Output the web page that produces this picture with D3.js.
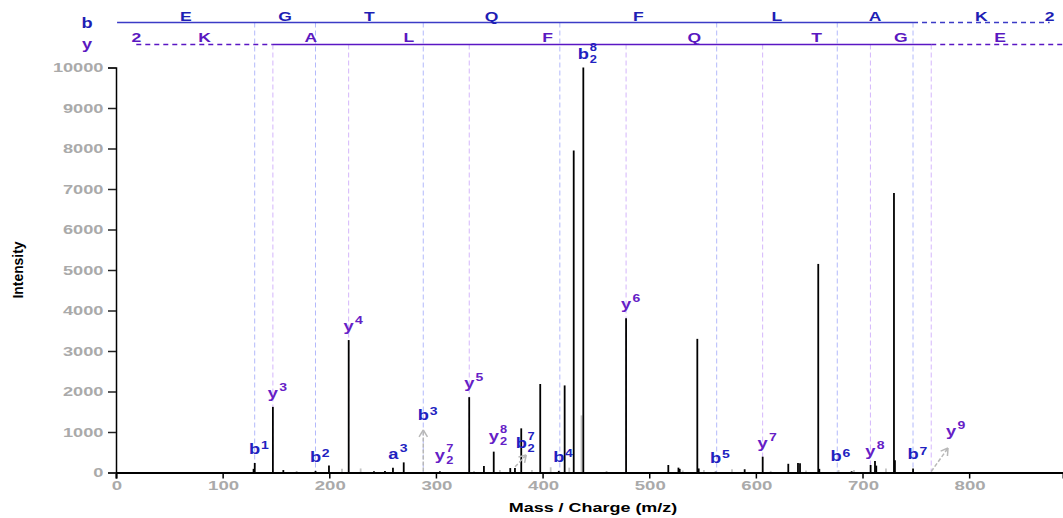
<!DOCTYPE html>
<html><head><meta charset="utf-8">
<script src="https://cdn.jsdelivr.net/npm/d3@7"></script>
<style>body{margin:0;background:#fff}svg{display:block}</style>
</head><body>
<svg id="c" width="1063" height="518"></svg>
<script>
// ---- data ----
const peptideB = ["E","G","T","Q","F","L","A","K"];
const peptideY = ["K","A","L","F","Q","T","G","E"];
const bLadder = [1.007,130.05,187.07,288.12,416.18,563.25,676.33,747.37,875.46];
const yLadder = [19.018,147.11,218.15,331.23,478.30,606.36,707.41,764.43,893.47];
const bMatched = [1,7];   // ladder index range drawn solid
const yMatched = [1,7];
const bIonIdx = [1,2,3,4,5,6,7];
const yIonIdx = [1,2,3,4,5,6,7];

const blackMz  = [129.0,130.1,147.1,156.9,169.4,182.8,187.1,199.7,218.2,241.9,252.2,259.7,269.8,303.7,331.2,335.7,345.0,354.2,369.7,374.1,380.0,397.8,415.2,420.7,429.2,438.2,460.0,478.3,517.9,527.4,528.6,545.1,546.4,562.2,589.5,606.4,630.4,639.5,641.4,658.5,659.5,689.8,707.6,711.7,712.9,729.5,730.4,747.4];
const blackInt = [90,235,1620,60,20,15,40,170,3270,30,40,120,250,30,1860,20,160,515,110,110,1090,2185,40,2150,7950,10000,20,3810,185,120,90,3300,100,20,80,390,215,235,230,5150,90,30,185,285,170,6900,300,100];
const grayMz  = [211.9,229.4,360.0,390.0,407.6,425.0,436.5,531.4,551.3,577.6,613.9,647.0,677.6,692.0,722.0];
const grayInt = [90,100,60,60,130,120,1410,50,60,80,40,50,60,60,100];

// ion labels: type, number, charge, m/z, intensity of matched peak
const ionType  = ["b","y","b","y","a","b","y","y","y","b","b","b","y","b","y","b","y","b","y"];
const ionNum   = [1,3,2,4,3,3,7,5,8,7,4,8,6,5,7,6,8,7,9];
const ionCharge= [1,1,1,1,1,1,2,1,2,2,1,2,1,1,1,1,1,1,1];
const ionMz    = [130.05,147.11,187.07,218.15,260.12,288.12,303.68,331.23,354.21,374.19,415.17,438.19,478.30,562.24,606.36,675.32,707.41,747.37,764.43];
const ionInt   = [235,1620,40,3270,120,0,30,1860,515,140,45,10000,3810,20,390,60,185,100,0];
// labels displaced with an arrow: label m/z and intensity (null = not displaced)
const ionLabelMz  = [null,null,null,null,null,288.12,null,null,null,380.0,null,null,null,null,null,null,null,null,783.0];
const ionLabelInt = [null,null,null,null,null,1075,null,null,null,383,null,null,null,null,null,null,null,null,679];

const xTicks = [0,100,200,300,400,500,600,700,800];
const yTicks = [0,1000,2000,3000,4000,5000,6000,7000,8000,9000,10000];

// ---- drawing ----
const svg = d3.select("#c");
const FONT = "'Liberation Sans', Arial, Helvetica, sans-serif";
const x = d3.scaleLinear().domain([0,888]).range([116,1063]);
const y = d3.scaleLinear().domain([0,10000]).range([472.5,67.5]);
const BCOL = "#2121c0", YCOL = "#6520c6";
const BLINE = "#3b3bc6", YLINE = "#5a16c4";
const BVERT = "#b3b9fb", YVERT = "#d4b6fb";
const ROWB = 22.5, ROWY = 44.5;

function txt(g, px, py, s, o){
  o = o||{};
  return g.append("text")
    .attr("transform", `translate(${px},${py}) scale(${o.sx||1.25},1)`)
    .attr("text-anchor", o.anchor||"middle")
    .attr("font-family", FONT).attr("font-weight","bold")
    .attr("font-size", o.size||13)
    .attr("fill", o.fill||"#000")
    .text(s);
}

// vertical dashed ion lines
const vg = svg.append("g");
bIonIdx.forEach(i=>{
  vg.append("line").attr("x1",x(bLadder[i])).attr("x2",x(bLadder[i]))
    .attr("y1",ROWB).attr("y2",y(0)).attr("stroke",BVERT).attr("stroke-width",1).attr("stroke-dasharray","5,3");
});
yIonIdx.forEach(i=>{
  vg.append("line").attr("x1",x(yLadder[i])).attr("x2",x(yLadder[i]))
    .attr("y1",ROWY).attr("y2",y(0)).attr("stroke",YVERT).attr("stroke-width",1).attr("stroke-dasharray","5,3");
});

// ladder rows
const topG = svg.append("g");
function seg(x1,x2,yy,col,dash){
  const l = topG.append("line").attr("x1",Math.max(x1,0)).attr("x2",Math.min(x2,1063))
    .attr("y1",yy).attr("y2",yy).attr("stroke",col).attr("stroke-width",1.5);
  if(dash) l.attr("stroke-dasharray","5,4");
}
seg(x(bLadder[0]), x(bLadder[bMatched[1]]), ROWB, BLINE, false);
seg(x(bLadder[bMatched[1]]), x(bLadder[bLadder.length-1]), ROWB, BLINE, true);
seg(x(yLadder[0]), x(yLadder[yMatched[0]]), ROWY, YLINE, true);
seg(x(yLadder[yMatched[0]]), x(yLadder[yMatched[1]]), ROWY, YLINE, false);
seg(x(yLadder[yMatched[1]]), x(yLadder[yLadder.length-1]), ROWY, YLINE, true);

const TS = 13.5, TSX = 1.3;
peptideB.forEach((r,i)=>{
  txt(topG, (x(bLadder[i])+x(bLadder[i+1]))/2, ROWB-2, r, {size:TS, sx:TSX, fill:"#1e1eb4"});
});
txt(topG, x(bLadder[bLadder.length-1]), ROWB-2, "2", {size:TS, sx:TSX, fill:"#1e1eb4"});
peptideY.forEach((r,i)=>{
  txt(topG, (x(yLadder[i])+x(yLadder[i+1]))/2, ROWY-2.5, r, {size:TS, sx:TSX, fill:"#5a18c0"});
});
txt(topG, x(yLadder[0]), ROWY-2.5, "2", {size:TS, sx:TSX, fill:"#5a18c0"});
txt(topG, 87, 28, "b", {size:14, sx:1.3, fill:"#1e1eb4"});
txt(topG, 87, 48.5, "y", {size:14, sx:1.3, fill:"#5a18c0"});

// peaks
const pg = svg.append("g");
pg.selectAll("line.g").data(grayMz.map((m,i)=>[m,grayInt[i]])).join("line")
  .attr("x1",d=>x(d[0])).attr("x2",d=>x(d[0])).attr("y1",y(0)).attr("y2",d=>y(d[1]))
  .attr("stroke","#c4c4c4").attr("stroke-width",1.8);
pg.selectAll("line.k").data(blackMz.map((m,i)=>[m,blackInt[i]])).join("line")
  .attr("x1",d=>x(d[0])).attr("x2",d=>x(d[0])).attr("y1",y(0)).attr("y2",d=>y(d[1]))
  .attr("stroke","#000").attr("stroke-width",1.8);

// axes
const xa = svg.append("g").attr("transform",`translate(0,${y(0)})`)
  .call(d3.axisBottom(x).tickValues(xTicks).tickSizeOuter(0).tickSize(6));
xa.select(".domain").attr("stroke","#000").attr("stroke-width",2);
xa.selectAll(".tick line").attr("stroke","#000").attr("stroke-width",1.5);
xa.selectAll(".tick text").remove();
xTicks.forEach(v=>txt(svg, x(v)+1, 490, String(v), {size:13.5, sx:1.38, fill:"#aaaaaa"}));

const ya = svg.append("g").attr("transform",`translate(116,0)`)
  .call(d3.axisLeft(y).tickValues(yTicks).tickSizeOuter(0).tickSize(8));
ya.select(".domain").attr("stroke","#000").attr("stroke-width",1.5);
ya.selectAll(".tick line").attr("stroke","#222").attr("stroke-width",1.5);
ya.selectAll(".tick text").remove();
yTicks.forEach(v=>txt(svg, 103.5, y(v)+4.8, String(v), {size:13.5, sx:1.35, fill:"#aaaaaa", anchor:"end"}));

txt(svg, 593, 512, "Mass / Charge (m/z)", {size:13.5, sx:1.33});
svg.append("text").attr("transform","translate(23,270) rotate(-90)")
  .attr("text-anchor","middle").attr("font-family",FONT).attr("font-weight","bold")
  .attr("font-size",15).attr("textLength",57).attr("lengthAdjust","spacingAndGlyphs")
  .text("Intensity");

// arrows for displaced labels
const ag = svg.append("g");
function arrow(x1,y1,x2,y2){
  ag.append("line").attr("x1",x1).attr("y1",y1).attr("x2",x2).attr("y2",y2)
    .attr("stroke","#b8b8b8").attr("stroke-width",1.5).attr("stroke-dasharray","4,2");
  const a = Math.atan2(y2-y1,x2-x1), L=8, s=0.55;
  [a+Math.PI-s, a+Math.PI+s].forEach(t=>{
    ag.append("line").attr("x1",x2).attr("y1",y2).attr("x2",x2+L*Math.cos(t)).attr("y2",y2+L*Math.sin(t))
      .attr("stroke","#b8b8b8").attr("stroke-width",1.5);
  });
}

// ion labels
const lg = svg.append("g");
ionType.forEach((t,i)=>{
  const col = t==="y" ? YCOL : BCOL;
  let lx, ly;
  if(ionLabelMz[i]!==null){
    lx = x(ionLabelMz[i]); ly = y(ionLabelInt[i]) - 9;
    if(t==="b" && ionCharge[i]===1){
      arrow(x(ionMz[i]), y(0)-1, x(ionMz[i]), y(ionLabelInt[i])+1);
    } else if(ionCharge[i]===2){
      arrow(x(ionMz[i]), y(ionInt[i]), x(ionLabelMz[i])+5, y(ionLabelInt[i])-2);
    } else {
      arrow(x(ionMz[i]), y(0)-1, x(ionLabelMz[i])-3, y(ionLabelInt[i])+3);
    }
  } else {
    lx = x(ionMz[i]); ly = Math.max(y(ionInt[i]) - 9, 59);
    if(ionCharge[i]===2) ly = Math.max(y(ionInt[i]) - 11, 59);
  }
  txt(lg, lx, ly, t, {size:15, sx:1.22, fill:col});
  const w = 8.8*1.22/2 + 1;
  const supDy = t==="b" ? -4.5 : -7;
  const two = ionCharge[i]===2;
  txt(lg, lx + w, ly + (two ? -8 : supDy), String(ionNum[i]), {size: two?10.5:11.5, sx:1.22, fill:col, anchor:"start"});
  if(two) txt(lg, lx + w, ly + 4, "2", {size:10.5, sx:1.22, fill:col, anchor:"start"});
});
</script>
</body></html>
